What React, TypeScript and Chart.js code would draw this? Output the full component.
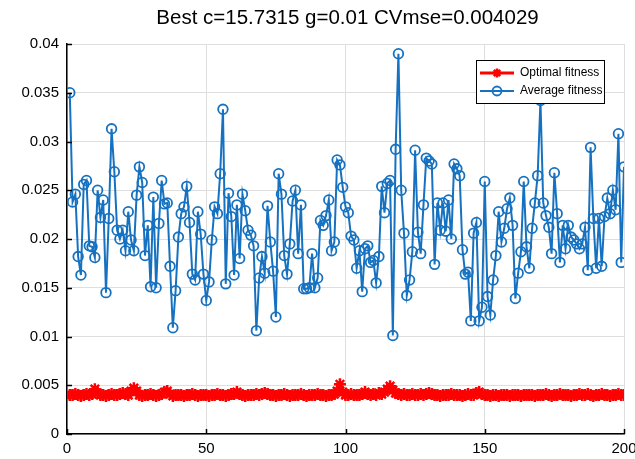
import React, { useEffect, useRef } from 'react';
import { Chart, registerables } from 'chart.js';

Chart.register(...registerables);

const TITLE = 'Best c=15.7315 g=0.01 CVmse=0.004029';
const SERIES_NAMES = ['Optimal fitness', 'Average fitness'];
const X_TICKS = [0, 50, 100, 150, 200];
const Y_TICKS = [0, 0.005, 0.01, 0.015, 0.02, 0.025, 0.03, 0.035, 0.04];

const optimalFitness = [
  0.0040, 0.0040, 0.0041, 0.0040, 0.0039, 0.0040, 0.0041, 0.0040, 0.0041, 0.0046,
  0.0042, 0.0040, 0.0040, 0.0039, 0.0040, 0.0041, 0.0040, 0.0040, 0.0041, 0.0042,
  0.0041, 0.0040, 0.0044, 0.0047, 0.0044, 0.0040, 0.0039, 0.0040, 0.0040, 0.0041,
  0.0040, 0.0039, 0.0040, 0.0041, 0.0043, 0.0044, 0.0041, 0.0039, 0.0040, 0.0040,
  0.0040, 0.0039, 0.0040, 0.0040, 0.0041, 0.0040, 0.0039, 0.0040, 0.0040, 0.0040,
  0.0039, 0.0040, 0.0040, 0.0041, 0.0040, 0.0040, 0.0039, 0.0040, 0.0041, 0.0041,
  0.0043, 0.0041, 0.0040, 0.0039, 0.0040, 0.0040, 0.0040, 0.0041, 0.0040, 0.0041,
  0.0042, 0.0041, 0.0040, 0.0040, 0.0039, 0.0040, 0.0040, 0.0041, 0.0040, 0.0039,
  0.0040, 0.0040, 0.0040, 0.0041, 0.0040, 0.0039, 0.0040, 0.0040, 0.0040, 0.0041,
  0.0040, 0.0040, 0.0039, 0.0040, 0.0040, 0.0041, 0.0044, 0.0051, 0.0043, 0.0040,
  0.0040, 0.0041, 0.0040, 0.0040, 0.0040, 0.0041, 0.0043, 0.0041, 0.0040, 0.0041,
  0.0040, 0.0042, 0.0041, 0.0043, 0.0046, 0.0049, 0.0045, 0.0042, 0.0041, 0.0040,
  0.0041, 0.0040, 0.0040, 0.0041, 0.0040, 0.0040, 0.0041, 0.0040, 0.0041, 0.0042,
  0.0041, 0.0040, 0.0040, 0.0039, 0.0040, 0.0040, 0.0040, 0.0041, 0.0040, 0.0040,
  0.0040, 0.0039, 0.0040, 0.0041, 0.0040, 0.0040, 0.0042, 0.0043, 0.0041, 0.0040,
  0.0040, 0.0039, 0.0040, 0.0040, 0.0039, 0.0040, 0.0040, 0.0040, 0.0039, 0.0040,
  0.0040, 0.0040, 0.0039, 0.0040, 0.0040, 0.0040, 0.0040, 0.0039, 0.0040, 0.0040,
  0.0040, 0.0041, 0.0040, 0.0039, 0.0040, 0.0040, 0.0041, 0.0040, 0.0040, 0.0040,
  0.0039, 0.0040, 0.0040, 0.0041, 0.0040, 0.0040, 0.0041, 0.0040, 0.0039, 0.0040,
  0.0040, 0.0041, 0.0040, 0.0040, 0.0039, 0.0040, 0.0040, 0.0041, 0.0040, 0.0040,
];

const averageFitness = [
  0.0350, 0.0238, 0.0246, 0.0182, 0.0163, 0.0256, 0.0260, 0.0193, 0.0192, 0.0181,
  0.0250, 0.0222, 0.0240, 0.0145, 0.0221, 0.0313, 0.0269, 0.0209, 0.0200, 0.0209,
  0.0188, 0.0228, 0.0199, 0.0188, 0.0245, 0.0274, 0.0258, 0.0183, 0.0214, 0.0151,
  0.0243, 0.0150, 0.0216, 0.0260, 0.0236, 0.0237, 0.0172, 0.0109, 0.0147, 0.0202,
  0.0226, 0.0233, 0.0254, 0.0217, 0.0164, 0.0158, 0.0228, 0.0205, 0.0164, 0.0137,
  0.0156, 0.0199, 0.0233, 0.0226, 0.0267, 0.0333, 0.0154, 0.0247, 0.0223, 0.0163,
  0.0235, 0.0180, 0.0246, 0.0229, 0.0209, 0.0204, 0.0193, 0.0106, 0.0160, 0.0182,
  0.0165, 0.0234, 0.0197, 0.0167, 0.0120, 0.0267, 0.0246, 0.0183, 0.0164, 0.0195,
  0.0239, 0.0250, 0.0185, 0.0235, 0.0149, 0.0149, 0.0150, 0.0185, 0.0150, 0.0160,
  0.0219, 0.0214, 0.0224, 0.0240, 0.0188, 0.0197, 0.0281, 0.0276, 0.0253, 0.0233,
  0.0227, 0.0203, 0.0199, 0.0170, 0.0188, 0.0146, 0.0190, 0.0193, 0.0176, 0.0178,
  0.0155, 0.0182, 0.0254, 0.0227, 0.0257, 0.0260, 0.0101, 0.0292, 0.0390, 0.0250,
  0.0206, 0.0142, 0.0158, 0.0187, 0.0291, 0.0207, 0.0185, 0.0235, 0.0283, 0.0280,
  0.0277, 0.0174, 0.0237, 0.0209, 0.0237, 0.0208, 0.0240, 0.0200, 0.0277, 0.0272,
  0.0265, 0.0189, 0.0164, 0.0166, 0.0116, 0.0206, 0.0217, 0.0116, 0.0130, 0.0259,
  0.0141, 0.0122, 0.0158, 0.0183, 0.0228, 0.0197, 0.0211, 0.0231, 0.0242, 0.0214,
  0.0139, 0.0165, 0.0187, 0.0259, 0.0192, 0.0170, 0.0211, 0.0237, 0.0265, 0.0342,
  0.0237, 0.0224, 0.0212, 0.0185, 0.0268, 0.0226, 0.0176, 0.0214, 0.0190, 0.0214,
  0.0202, 0.0199, 0.0195, 0.0190, 0.0195, 0.0212, 0.0168, 0.0294, 0.0221, 0.0170,
  0.0221, 0.0172, 0.0223, 0.0242, 0.0226, 0.0250, 0.0230, 0.0308, 0.0176, 0.0274,
];

const RED = '#ff0000';
const BLUE = '#1672c0';
const FONT = '"Liberation Sans", Arial, sans-serif';

function drawMarker(ctx: CanvasRenderingContext2D, style: string, x: number, y: number, r: number) {
  ctx.beginPath();
  if (style === 'circle') {
    ctx.arc(x, y, r, 0, Math.PI * 2);
  } else {
    for (let k = 0; k < 4; k++) {
      const a = (k * Math.PI) / 4;
      ctx.moveTo(x - Math.cos(a) * r, y - Math.sin(a) * r);
      ctx.lineTo(x + Math.cos(a) * r, y + Math.sin(a) * r);
    }
  }
  ctx.stroke();
}

const decorPlugin = {
  id: 'decor',
  afterDraw(chart: any) {
    const ctx: CanvasRenderingContext2D = chart.ctx;
    const { left, right, bottom } = chart.chartArea;
    ctx.save();
    // title
    ctx.fillStyle = '#000';
    ctx.font = `20.5px ${FONT}`;
    ctx.textAlign = 'center';
    ctx.textBaseline = 'middle';
    ctx.fillText(TITLE, (left + right) / 2 + 2, 18);

    // inward ticks
    ctx.strokeStyle = '#000';
    ctx.lineWidth = 1.5;
    const ys = chart.scales.y;
    ys.ticks.forEach((t: any) => {
      const py = Math.round(ys.getPixelForValue(t.value)) + 0.5;
      ctx.beginPath();
      ctx.moveTo(left, py);
      ctx.lineTo(left + 5, py);
      ctx.stroke();
    });
    const xs = chart.scales.x;
    xs.ticks.forEach((t: any) => {
      const px = Math.round(xs.getPixelForValue(t.value)) + 0.5;
      ctx.beginPath();
      ctx.moveTo(px, bottom);
      ctx.lineTo(px, bottom - 5);
      ctx.stroke();
    });

    // legend box
    const x0 = 476, y0 = 60, w = 128, h = 43;
    ctx.fillStyle = '#fff';
    ctx.fillRect(x0, y0, w, h);
    ctx.strokeStyle = '#000';
    ctx.lineWidth = 1;
    ctx.strokeRect(x0 + 0.5, y0 + 0.5, w, h);
    chart.data.datasets.forEach((ds: any, i: number) => {
      const yy = y0 + 13 + i * 18;
      ctx.strokeStyle = ds.borderColor;
      ctx.lineWidth = Math.min(ds.borderWidth, 3);
      ctx.beginPath();
      ctx.moveTo(480, yy);
      ctx.lineTo(514, yy);
      ctx.stroke();
      ctx.lineWidth = ds.pointBorderWidth;
      drawMarker(ctx, ds.pointStyle, 497, yy, Math.min(ds.pointRadius, 4.5));
      ctx.fillStyle = '#000';
      ctx.font = `12px ${FONT}`;
      ctx.textAlign = 'left';
      ctx.textBaseline = 'middle';
      ctx.fillText(ds.label, 520, yy);
    });
    ctx.restore();
  },
};

export default function App() {
  const ref = useRef<HTMLCanvasElement | null>(null);
  useEffect(() => {
    if (!ref.current) return;
    const chart = new Chart(ref.current, {
      type: 'line',
      data: {
        datasets: [
          {
            label: SERIES_NAMES[0],
            data: optimalFitness.map((v, i) => ({ x: i + 1, y: v })),
            borderColor: RED,
            backgroundColor: RED,
            borderWidth: 4,
            pointStyle: 'star',
            pointRadius: 6,
            pointBorderWidth: 2.5,
            pointBorderColor: RED,
            pointBackgroundColor: RED,
            tension: 0,
          },
          {
            label: SERIES_NAMES[1],
            data: averageFitness.map((v, i) => ({ x: i + 1, y: v })),
            borderColor: BLUE,
            backgroundColor: 'rgba(0,0,0,0)',
            borderWidth: 2,
            pointStyle: 'circle',
            pointRadius: 4.8,
            pointBorderWidth: 1.8,
            pointBorderColor: BLUE,
            pointBackgroundColor: 'rgba(0,0,0,0)',
            tension: 0,
          },
        ],
      } as any,
      options: {
        animation: false,
        responsive: false,
        devicePixelRatio: 1,
        layout: { padding: { top: 44, right: 11, left: 0, bottom: 0 } },
        plugins: { legend: { display: false }, tooltip: { enabled: false }, title: { display: false } },
        scales: {
          x: {
            type: 'linear',
            min: 0,
            max: 200,
            afterBuildTicks: (s: any) => { s.ticks = X_TICKS.map((v) => ({ value: v })); },
            afterFit: (s: any) => { s.height = 25; s.paddingLeft = 0; s.paddingRight = 0; },
            grid: { color: '#dedede', lineWidth: 1, drawTicks: false },
            border: { color: '#000', width: 1.5 },
            ticks: { color: '#000', font: { family: FONT, size: 15 }, padding: 6, maxRotation: 0 },
          },
          y: {
            type: 'linear',
            min: 0,
            max: 0.04,
            afterBuildTicks: (s: any) => { s.ticks = Y_TICKS.map((v) => ({ value: v })); },
            afterFit: (s: any) => { s.width = 67; s.paddingTop = 0; s.paddingBottom = 0; },
            grid: { color: '#dedede', lineWidth: 1, drawTicks: false },
            border: { color: '#000', width: 1.5 },
            ticks: {
              color: '#000',
              font: { family: FONT, size: 15 },
              padding: 8,
              callback: (v: any) => String(Number(Number(v).toFixed(3))),
            },
          },
        },
      } as any,
      plugins: [decorPlugin],
    });
    return () => chart.destroy();
  }, []);
  return (
    <div style={{ position: 'fixed', left: 0, top: 0, width: 635, height: 459, background: '#fff' }}>
      <canvas ref={ref} width={635} height={459} style={{ display: 'block' }} />
    </div>
  );
}
